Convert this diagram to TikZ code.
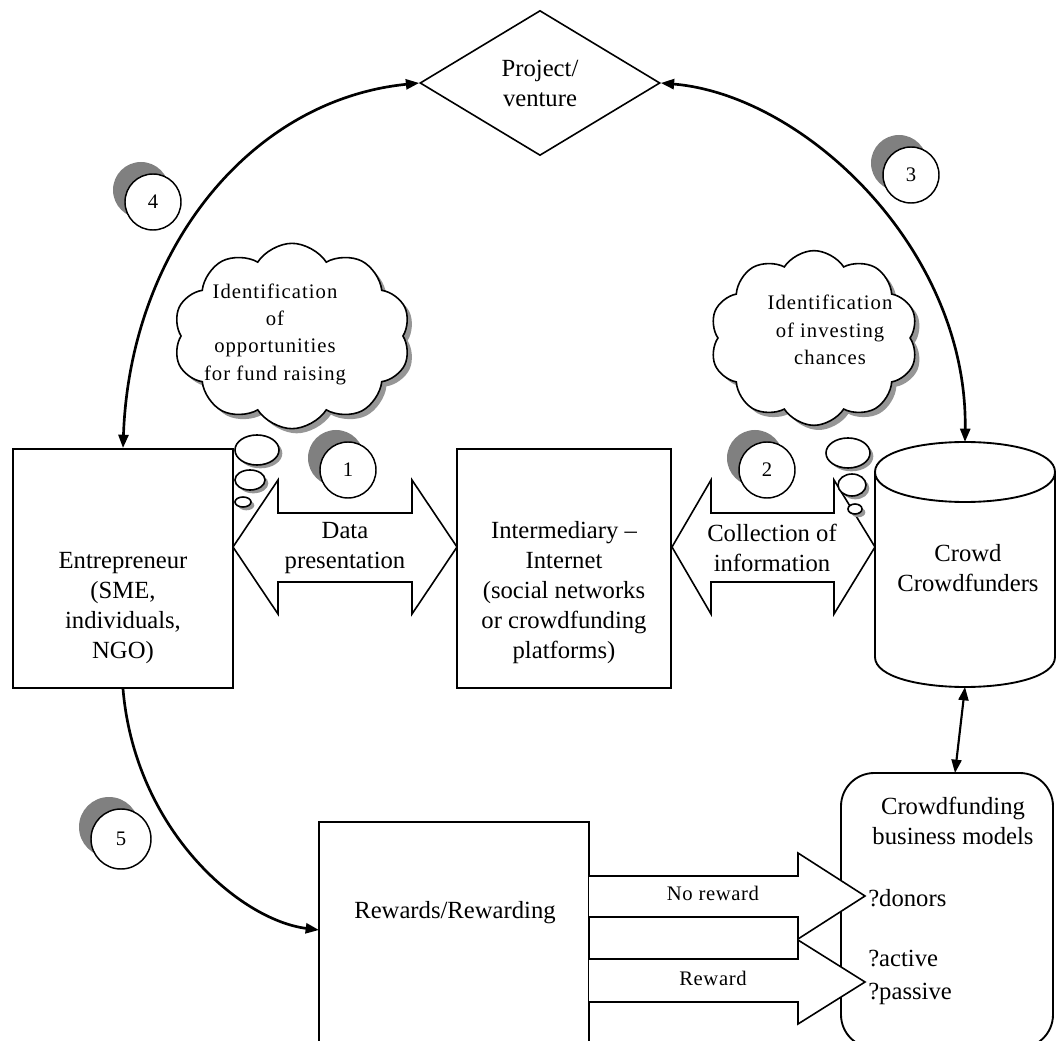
\documentclass[tikz,border=0pt]{standalone}
\usepackage{fontspec}
\setmainfont{Liberation Serif}
\usetikzlibrary{shapes.geometric,shapes.symbols,shadows,arrows.meta}
\definecolor{shgray}{RGB}{128,128,128}
\definecolor{cloudsh}{RGB}{150,150,150}
\begin{document}
\begin{tikzpicture}[x=0.75pt,y=-0.75pt,
  box/.style={draw, line width=1.4pt, fill=white, inner sep=0pt},
  maintxt/.style={font=\fontsize{18.5}{22.5}\selectfont, align=center, inner sep=0pt},
  cloudtxt/.style={font=\fontsize{15.5}{20.5}\selectfont\addfontfeature{LetterSpace=5}, align=center, inner sep=0pt},
  lbltxt/.style={font=\fontsize{15.5}{20}\selectfont\addfontfeature{LetterSpace=3}, inner sep=0pt},
  numc/.style={circle, draw, line width=1.1pt, fill=white, minimum size=42pt, inner sep=0pt,
     font=\fontsize{15.5}{17}\selectfont,
     drop shadow={shadow xshift=-9pt, shadow yshift=9pt, fill=shgray, opacity=1}},
  thought/.style={cloud, cloud puffs=10, cloud puff arc=115, cloud ignores aspect, draw,
     line width=1.2pt, fill=white, inner sep=0pt,
     drop shadow={shadow xshift=3.5pt, shadow yshift=-3.5pt, fill=cloudsh, opacity=1}},
  bubble/.style={ellipse, draw, line width=1.2pt, fill=white, inner sep=0pt,
     drop shadow={shadow xshift=2.5pt, shadow yshift=-2.5pt, fill=cloudsh, opacity=1}},
  blockarr/.style={draw, line width=1.2pt, fill=white, line join=miter},
  curve/.style={line width=2pt},
  headtri/.tip={Triangle[length=10pt,width=7.5pt]}
]
\useasboundingbox (0,0) rectangle (1058,1041);

% main boxes
\node[box, minimum width=165pt, minimum height=179.25pt] (ent) at (123,568.5) {};
\node[maintxt] (enttxt) at (123,608) {Entrepreneur\\(SME,\\individuals,\\NGO)};

\node[box, minimum width=160.5pt, minimum height=179.25pt] (int) at (564,568.5) {};
\node[maintxt] (inttxt) at (564,593) {Intermediary –\\Internet\\(social networks\\or crowdfunding\\platforms)};

% cylinder
\coordinate (cyltop) at (965,442);
\coordinate (cylbot) at (965,687);
\draw[line width=1.4pt, fill=white] (875,472) -- (875,657) .. controls (875,697) and (1055,697) .. (1055,657)
  -- (1055,472) .. controls (1055,432) and (875,432) .. (875,472) -- cycle;
\draw[line width=1.4pt] (875,472) .. controls (875,512) and (1055,512) .. (1055,472);
\node[maintxt] (crowd) at (968,568) {Crowd\\Crowdfunders};

% business models box
\node[box, rounded corners=25pt, minimum width=159pt, minimum height=206.25pt] (cbm) at (947,910.5) {};
\coordinate (cbmtop) at (955,773);
\node[maintxt] (cbmtxt) at (953,821) {Crowdfunding\\business models};
\node[maintxt, anchor=base west] (don) at (868,906) {?donors};
\node[maintxt, anchor=base west] (act) at (868,966) {?active};
\node[maintxt, anchor=base west] (pas) at (868,999) {?passive};

% rewards box
\node[box, minimum width=202.5pt, minimum height=178.5pt] (rew) at (454,941) {};
\node[maintxt] (rewtxt) at (455,913) {Rewards/Rewarding};
\coordinate (rewin) at (319,930);

% diamond
\node[diamond, draw, line width=1.2pt, fill=white, minimum width=180pt, minimum height=108.75pt,
  inner sep=0pt, maintxt] (dia) at (540,83) {Project/\\venture};

% block arrows
\draw[blockarr] (233,547) -- (278,480) -- (278,513) -- (412,513) -- (412,480) -- (457,547)
  -- (412,614) -- (412,582) -- (278,582) -- (278,614) -- cycle;
\node[maintxt] (dp) at (345,548) {Data\\presentation};

\draw[blockarr] (672,547) -- (711,480) -- (711,513) -- (834,513) -- (834,480) -- (875,547)
  -- (834,614) -- (834,582) -- (711,582) -- (711,614) -- cycle;
\node[maintxt] (ci) at (772,548) {Collection of\\information};

\draw[blockarr] (589,876) -- (798,876) -- (798,853) -- (865,896) -- (798,939) -- (798,917) -- (589,917);
\node[lbltxt] (nr) at (713,893) {No reward};
\draw[blockarr] (589,959) -- (798,959) -- (798,940) -- (865,982) -- (798,1024) -- (798,1002) -- (589,1002);
\node[lbltxt] (rw) at (713,978) {Reward};

% connectors
\draw[curve, {headtri}-{headtri}] (ent.north) .. controls (130,250) and (250,100) .. (dia.west);
\draw[curve, {headtri}-{headtri}] (dia.east) .. controls (805,95) and (968,250) .. (cyltop);
\draw[curve, -{headtri}] (ent.south) .. controls (135,830) and (240,920) .. (rewin);
\draw[line width=1.6pt, {headtri}-{headtri}] (cylbot) -- (cbmtop);

% clouds
\node[thought, minimum width=178pt, minimum height=139pt] (cl1) at (292,336) {};
\node[cloudtxt] (cl1txt) at (275,334) {Identification\\of\\opportunities\\for fund raising};
\node[thought, minimum width=156pt, minimum height=131pt] (cl2) at (814,338) {};
\node[cloudtxt] (cl2txt) at (830,330) {Identification\\of investing\\chances};

% thought bubbles
\node[bubble, minimum width=33pt, minimum height=22.5pt] (b1a) at (257,450) {};
\node[bubble, minimum width=22.5pt, minimum height=15pt] (b1b) at (250,480) {};
\node[bubble, minimum width=12pt, minimum height=7.5pt] (b1c) at (243,502) {};
\node[bubble, minimum width=33pt, minimum height=22.5pt] (b2a) at (848,453) {};
\node[bubble, minimum width=21pt, minimum height=16.5pt] (b2b) at (852,485) {};
\node[bubble, minimum width=10.5pt, minimum height=7.5pt] (b2c) at (855,509) {};

% numbered circles
\node[numc] (c4) at (153,202) {4};
\node[numc] (c3) at (911,175) {3};
\node[numc] (c1) at (348,470) {1};
\node[numc] (c2) at (767,470) {2};
\node[numc, minimum size=45pt] (c5) at (121,839) {5};
\end{tikzpicture}
\end{document}
